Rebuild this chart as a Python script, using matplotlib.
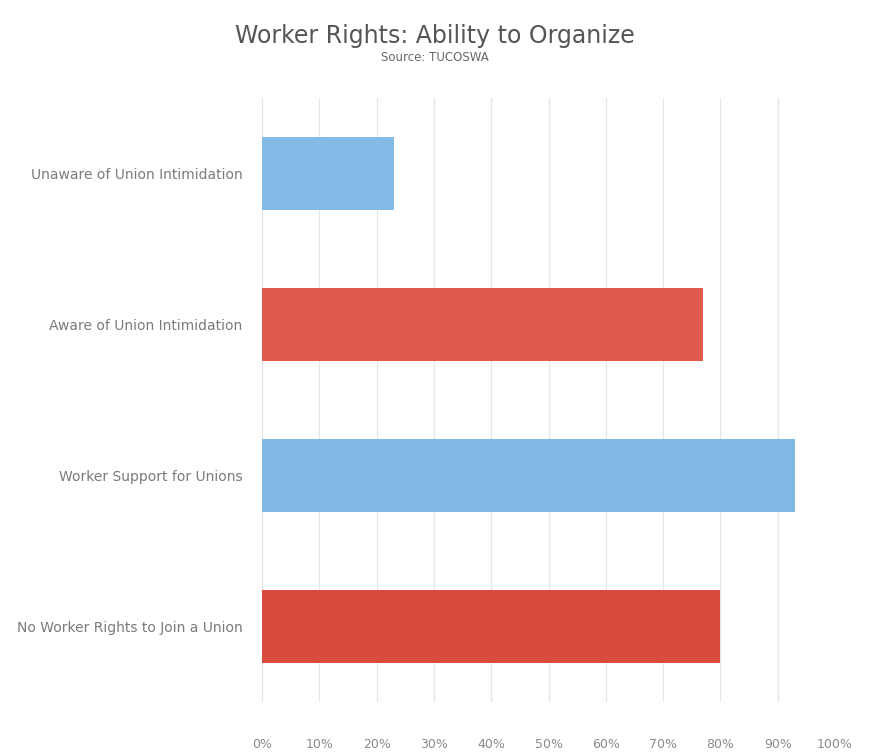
import matplotlib.pyplot as plt
from matplotlib.ticker import MultipleLocator, FuncFormatter

# Datos (porcentaje)
categories = ["Unaware of Union Intimidation", "Aware of Union Intimidation",
              "Worker Support for Unions", "No Worker Rights to Join a Union"]
values = [23, 77, 93, 80]
colors = ["#82bbe6", "#e05a4d", "#80b9e3", "#d94b3d"]

fig = plt.figure(figsize=(8.69, 7.56), dpi=100)
ax = fig.add_axes([0.3015, 0.0714, 0.6594, 0.799])

y = list(range(len(categories)))
ax.barh(y, values, height=0.48, color=colors)
ax.set_yticks(y)
ax.set_yticklabels(categories)
ax.set_ylim(len(categories) - 0.5, -0.5)

ax.set_xlim(0, 100)
ax.xaxis.set_major_locator(MultipleLocator(10))
ax.xaxis.set_major_formatter(FuncFormatter(lambda v, p: f"{int(v)}%"))
ax.grid(axis="x", color="#e6e6e6", linewidth=0.9)
ax.set_axisbelow(True)

for s in ax.spines.values():
    s.set_visible(False)
ax.tick_params(axis="x", length=0, pad=26, labelsize=9, labelcolor="#8a8a8a")
ax.tick_params(axis="y", length=0, pad=14, labelsize=10, labelcolor="#7a7a7a")

fig.text(0.5, 0.953, "Worker Rights: Ability to Organize", ha="center",
         va="center", fontsize=17, color="#555555")
fig.text(0.5, 0.924, "Source: TUCOSWA", ha="center", va="center",
         fontsize=8.5, color="#666666")

fig.savefig("out.png", dpi=100)
